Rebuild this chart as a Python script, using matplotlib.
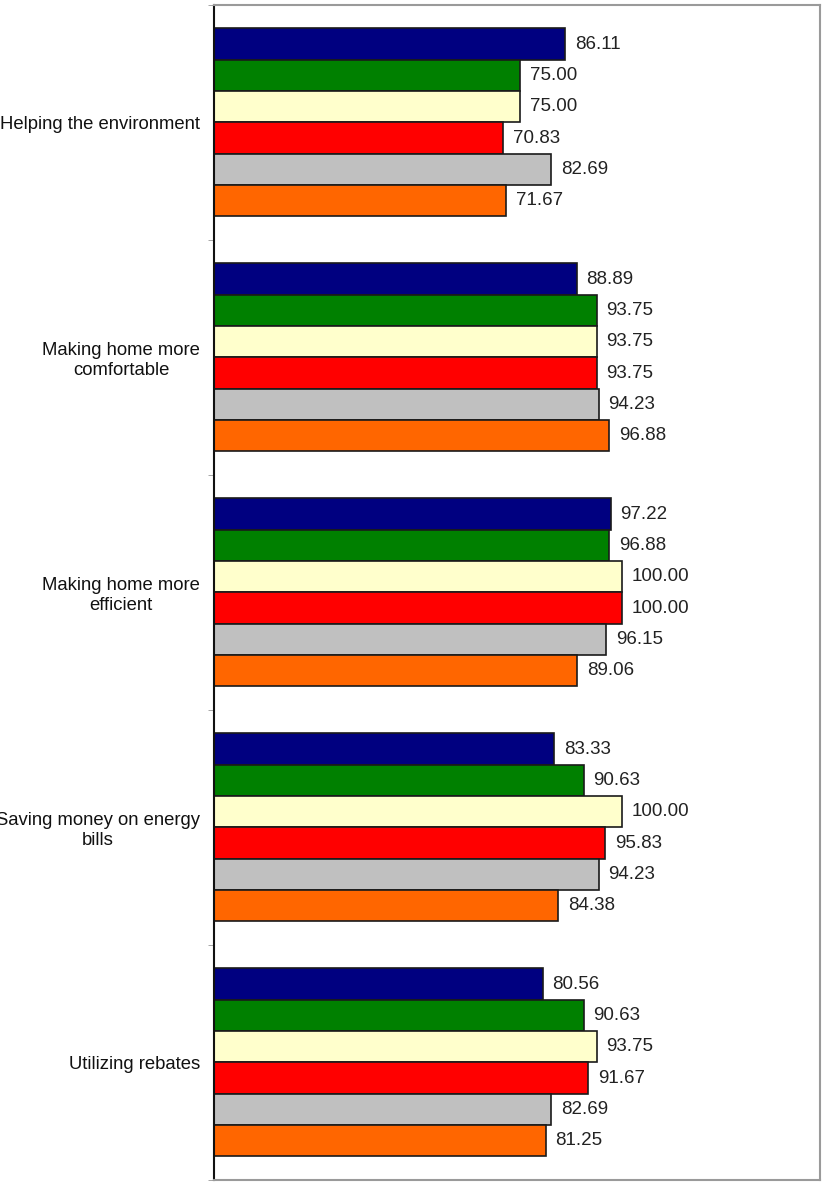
import numpy as np
import matplotlib.pyplot as plt

plt.rcParams['font.family'] = ['Liberation Sans', 'DejaVu Sans']

categories = ['Helping the environment',
              'Making home more\ncomfortable',
              'Making home more\nefficient',
              'Saving money on energy\nbills',
              'Utilizing rebates']

# one list per series, in the order they are stacked within each group
series_navy = [86.11, 88.89, 97.22, 83.33, 80.56]
series_green = [75.00, 93.75, 96.88, 90.63, 90.63]
series_yellow = [75.00, 93.75, 100.00, 100.00, 93.75]
series_red = [70.83, 93.75, 100.00, 95.83, 91.67]
series_gray = [82.69, 94.23, 96.15, 94.23, 82.69]
series_orange = [71.67, 96.88, 89.06, 84.38, 81.25]

series = [series_navy, series_green, series_yellow, series_red, series_gray, series_orange]
colors = ['#000080', '#008000', '#FFFFCC', '#FF0000', '#C0C0C0', '#FF6600']

fig = plt.figure(figsize=(8.27, 11.82), dpi=100)
ax = fig.add_axes([0.2588, 0.0017, 0.7327, 0.9941])

n = len(series)
h = 1 / (n + 1.5)
y = np.arange(len(categories))
for k, (vals, c) in enumerate(zip(series, colors)):
    pos = y - 0.5 + 0.75 * h + (k + 0.5) * h
    bars = ax.barh(pos, vals, height=h, color=c, edgecolor='#1a1a1a', linewidth=1.2)
    ax.bar_label(bars, labels=['%.2f' % v for v in vals], padding=7, fontsize=13.5, color='#222222')

ax.set_xlim(0, 148.5)
ax.set_ylim(len(categories) - 0.5, -0.5)
ax.set_xticks([])
ax.set_yticks(y)
ax.set_yticklabels(categories, fontsize=13.3, multialignment='center', color='#111111')
ax.set_yticks(np.arange(len(categories) + 1) - 0.5, minor=True)
ax.tick_params(axis='y', which='major', length=0, pad=10)
ax.tick_params(axis='y', which='minor', length=4, color='#999999')

ax.spines['left'].set_color('#111111')
ax.spines['left'].set_linewidth(1.5)
for s in ['top', 'right', 'bottom']:
    ax.spines[s].set_color('#9a9a9a')
    ax.spines[s].set_linewidth(1.5)

fig.savefig('out.png', dpi=100)
